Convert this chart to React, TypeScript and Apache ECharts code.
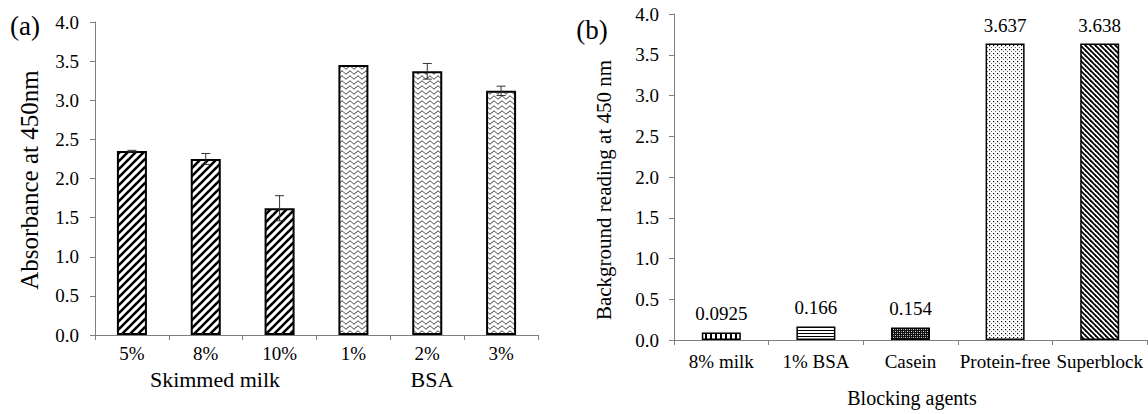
import React, { useEffect, useRef } from "react";
import * as echarts from "echarts";

// Panel (a)
const catsA = ["5%", "8%", "10%", "1%", "2%", "3%"];
const valuesA = [2.35, 2.25, 1.62, 3.45, 3.37, 3.12];
const errorsA = [0.01, 0.07, 0.16, 0.0, 0.1, 0.06];
const groupLabelsA = ["Skimmed milk", "BSA"];

// Panel (b)
const catsB = ["8% milk", "1% BSA", "Casein", "Protein-free", "Superblock"];
const valuesB = [0.0925, 0.166, 0.154, 3.637, 3.638];
const labelsB = ["0.0925", "0.166", "0.154", "3.637", "3.638"];

const FONT = "Liberation Serif";

function makePattern(w: number, h: number, draw: (ctx: CanvasRenderingContext2D) => void) {
  const c = document.createElement("canvas");
  c.width = w;
  c.height = h;
  const ctx = c.getContext("2d") as CanvasRenderingContext2D;
  ctx.fillStyle = "#fff";
  ctx.fillRect(0, 0, w, h);
  draw(ctx);
  return { image: c, repeat: "repeat", imageWidth: w, imageHeight: h } as any;
}

function slashPattern(size: number, lw: number) {
  return makePattern(size, size, (ctx) => {
    ctx.strokeStyle = "#000";
    ctx.lineWidth = lw;
    for (const k of [-size, 0, size]) {
      ctx.beginPath();
      ctx.moveTo(k - 1, size + 1);
      ctx.lineTo(k + size + 1, -1);
      ctx.stroke();
    }
  });
}

function backslashPattern(size: number, lw: number) {
  return makePattern(size, size, (ctx) => {
    ctx.strokeStyle = "#000";
    ctx.lineWidth = lw;
    for (const k of [-size, 0, size]) {
      ctx.beginPath();
      ctx.moveTo(k - 1, -1);
      ctx.lineTo(k + size + 1, size + 1);
      ctx.stroke();
    }
  });
}

function wavyPattern() {
  const w = 8, h = 5;
  return makePattern(w, h, (ctx) => {
    ctx.strokeStyle = "#1a1a1a";
    ctx.lineWidth = 1;
    ctx.beginPath();
    for (let x = 0; x <= w; x += 0.5) {
      const y = 2.5 + 1.4 * Math.sin((2 * Math.PI * x) / w);
      if (x === 0) ctx.moveTo(x, y);
      else ctx.lineTo(x, y);
    }
    ctx.stroke();
  });
}

function verticalPattern() {
  return makePattern(5, 4, (ctx) => {
    ctx.fillStyle = "#000";
    ctx.fillRect(0, 0, 2, 4);
  });
}

function horizontalPattern() {
  return makePattern(4, 3, (ctx) => {
    ctx.fillStyle = "#000";
    ctx.fillRect(0, 0, 4, 1);
  });
}

function caseinPattern() {
  return makePattern(4, 4, (ctx) => {
    ctx.fillStyle = "#111";
    ctx.fillRect(0, 0, 4, 4);
    ctx.fillStyle = "#ddd";
    ctx.fillRect(1, 1, 1, 1);
    ctx.fillRect(3, 3, 1, 1);
    ctx.fillStyle = "#888";
    ctx.fillRect(3, 1, 1, 1);
    ctx.fillRect(1, 3, 1, 1);
  });
}

function dotPattern() {
  return makePattern(4, 4, (ctx) => {
    ctx.fillStyle = "#000";
    ctx.fillRect(1, 1, 1.2, 1.2);
    ctx.fillStyle = "#666";
    ctx.fillRect(3, 3, 1, 1);
  });
}

function txt(text: string, x: number, y: number, size: number, rotate = false) {
  return {
    type: "text",
    x,
    y,
    rotation: rotate ? Math.PI / 2 : 0,
    style: {
      text,
      fontFamily: FONT,
      fontSize: size,
      fill: "#000",
      align: "center",
      verticalAlign: "middle",
      textAlign: "center",
      textVerticalAlign: "middle",
    },
  };
}

export default function App() {
  const ref = useRef<HTMLDivElement>(null);

  useEffect(() => {
    if (!ref.current) return;
    const chart = echarts.init(ref.current, undefined, { renderer: "svg" });

    const pSlash = slashPattern(8, 2.6);
    const pWavy = wavyPattern();
    const patternsB = [verticalPattern(), horizontalPattern(), caseinPattern(), dotPattern(), backslashPattern(5, 1.8)];

    const axisLineStyle = { color: "#7f7f7f", width: 1 };

    const mkY = (gridIndex: number, margin: number) => ({
      type: "value",
      gridIndex,
      min: 0,
      max: 4,
      interval: 0.5,
      axisLine: { show: true, lineStyle: axisLineStyle },
      axisTick: { show: true, length: 5, lineStyle: axisLineStyle },
      splitLine: { show: false },
      axisLabel: {
        margin,
        color: "#000",
        fontFamily: FONT,
        fontSize: 19,
        formatter: (v: number) => v.toFixed(1),
      },
    });

    const mkX = (gridIndex: number, data: string[], margin: number) => ({
      type: "category",
      gridIndex,
      data,
      boundaryGap: true,
      axisLine: { show: true, lineStyle: axisLineStyle },
      axisTick: { show: true, length: 5, lineStyle: axisLineStyle, alignWithLabel: false },
      axisLabel: { margin, color: "#000", fontFamily: FONT, fontSize: 19, interval: 0 },
    });

    const errData = valuesA.map((v, i) => [i, v, errorsA[i]]);

    chart.setOption({
      animation: false,
      grid: [
        { left: 95, top: 22, width: 443, height: 313 },
        { left: 674, top: 14, width: 473, height: 326 },
      ],
      xAxis: [mkX(0, catsA, 9), mkX(1, catsB, 12)],
      yAxis: [mkY(0, 16), mkY(1, 15)],
      series: [
        {
          type: "bar",
          xAxisIndex: 0,
          yAxisIndex: 0,
          barWidth: 30,
          data: valuesA.map((v, i) => ({
            value: v,
            itemStyle: { color: i < 3 ? pSlash : pWavy, borderColor: "#000", borderWidth: 2 },
          })),
        },
        {
          type: "custom",
          xAxisIndex: 0,
          yAxisIndex: 0,
          data: errData,
          z: 5,
          renderItem: (params: any, api: any) => {
            const i = api.value(0);
            const v = api.value(1);
            const e = api.value(2);
            if (!e) return null;
            const top = api.coord([i, v + e]);
            const bot = api.coord([i, v - e]);
            const hw = 4.5;
            const style = { stroke: "#333", lineWidth: 1 };
            return {
              type: "group",
              children: [
                { type: "line", shape: { x1: top[0], y1: top[1], x2: bot[0], y2: bot[1] }, style },
                { type: "line", shape: { x1: top[0] - hw, y1: top[1], x2: top[0] + hw, y2: top[1] }, style },
                { type: "line", shape: { x1: bot[0] - hw, y1: bot[1], x2: bot[0] + hw, y2: bot[1] }, style },
              ],
            };
          },
        },
        {
          type: "bar",
          xAxisIndex: 1,
          yAxisIndex: 1,
          barWidth: 39,
          label: {
            show: true,
            position: "top",
            distance: 9,
            color: "#000",
            fontFamily: FONT,
            fontSize: 19,
            formatter: (p: any) => labelsB[p.dataIndex],
          },
          data: valuesB.map((v, i) => ({
            value: v,
            itemStyle: { color: patternsB[i], borderColor: "#000", borderWidth: 1.5 },
          })),
        },
      ],
      graphic: [
        txt("(a)", 25, 26, 27),
        txt("(b)", 592, 30, 27),
        txt("Absorbance at 450nm", 29, 180, 25, true),
        txt("Background reading at 450 nm", 604, 190, 21, true),
        txt(groupLabelsA[0], 215, 379, 22),
        txt(groupLabelsA[1], 432, 379, 22),
        txt("Blocking agents", 912, 398, 20),
      ],
    });

    return () => chart.dispose();
  }, []);

  return (
    <div
      ref={ref}
      style={{ position: "absolute", left: 0, top: 0, width: 1148, height: 414, background: "#fff" }}
    />
  );
}
